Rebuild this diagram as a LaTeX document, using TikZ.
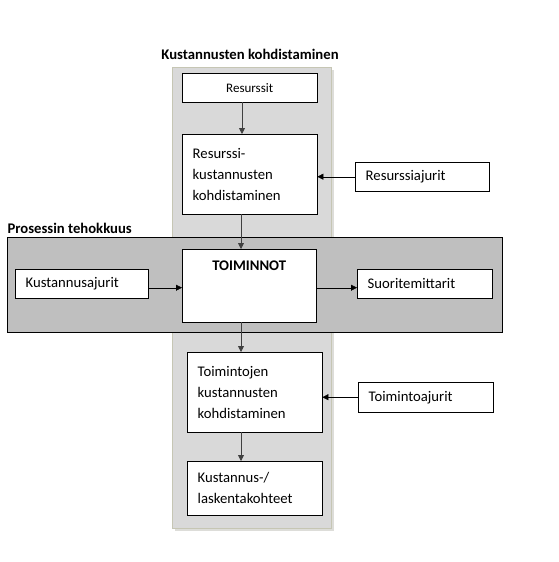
\documentclass[tikz,border=0pt]{standalone}
\usepackage{fontspec}
\setmainfont{Carlito}
\usetikzlibrary{arrows.meta}
\definecolor{colgray}{RGB}{217,217,217}
\definecolor{colline}{RGB}{198,198,180}
\definecolor{bandgray}{RGB}{191,191,191}
\definecolor{darkline}{RGB}{64,64,64}
\begin{document}
\begin{tikzpicture}
        [x=1pt, y=-1pt,
        box/.style={draw, fill=white, anchor=north west, text width=114pt, inner xsep=10.5pt, inner ysep=2pt, align=left, font=\fontsize{14.7}{21}\selectfont},
        smallbox/.style={box, align=center, font=\fontsize{13}{16}\selectfont},
        title/.style={font=\fontsize{14.7}{18}\selectfont\bfseries},
        arrow/.style={-{Triangle[length=6pt, width=6pt]}, black},
        downarrow/.style={-{Triangle[length=6pt, width=6pt]}, darkline, thick}]

        \useasboundingbox (0,0) rectangle (558,562);

        % grey column and band
        \fill[colline!60!gray, opacity=0.4] (175,70) rectangle (334,531);
        \draw[colline, fill=colgray] (172,67) rectangle (331,528);
        \draw[black, fill=bandgray] (7,237) rectangle (502,332);

        % titles
        \node[title] (t1) at (250,54) {Kustannusten kohdistaminen};
        \node[title, anchor=west] (t2) at (4,228) {Prosessin tehokkuus};

        % boxes
        \node[smallbox, minimum height=29pt] (res) at (182,73) {Resurssit};
        \node[box, minimum height=80pt] (resk) at (182,134) {Resurssi-\\kustannusten\\kohdistaminen};
        \node[box, minimum height=29pt, text width=113pt] (resaj) at (355,162) {Resurssiajurit};
        \node[box, align=center, text width=113pt, text height=18pt, text depth=49pt, inner ysep=3pt, font=\fontsize{14.7}{18}\selectfont\bfseries] (toim) at (182,249) {TOIMINNOT};
        \node[box, minimum height=29pt, text width=112pt] (kaj) at (15,269) {Kustannusajurit};
        \node[box, minimum height=29pt] (suor) at (357,269) {Suoritemittarit};
        \node[box, minimum height=80pt] (toik) at (187,352) {Toimintojen\\kustannusten\\kohdistaminen};
        \node[box, minimum height=30pt] (toiaj) at (358,382) {Toimintoajurit};
        \node[box, minimum height=54pt] (kohde) at (187,461) {Kustannus-/\\laskentakohteet};

        % vertical arrows
        \draw[downarrow] ([xshift=60pt]res.south west) -- ([xshift=60pt]resk.north west);
        \draw[downarrow] ([xshift=59pt]resk.south west) -- ([xshift=59pt]toim.north west);
        \draw[downarrow] ([xshift=59pt]toim.south west) -- ([xshift=54pt]toik.north west);
        \draw[downarrow] ([xshift=54pt]toik.south west) -- ([xshift=54pt]kohde.north west);

        % horizontal arrows
        \draw[arrow] (resaj.west) -- (resaj.west -| resk.east);
        \draw[arrow] ([yshift=-4pt]kaj.east) -- ([yshift=-4pt]kaj.east -| toim.west);
        \draw[arrow] ([yshift=-4pt]toim.east |- kaj.east) -- ([yshift=-4pt]suor.west);
        \draw[arrow] (toiaj.west) -- (toiaj.west -| toik.east);

    \end{tikzpicture}
\end{document}
